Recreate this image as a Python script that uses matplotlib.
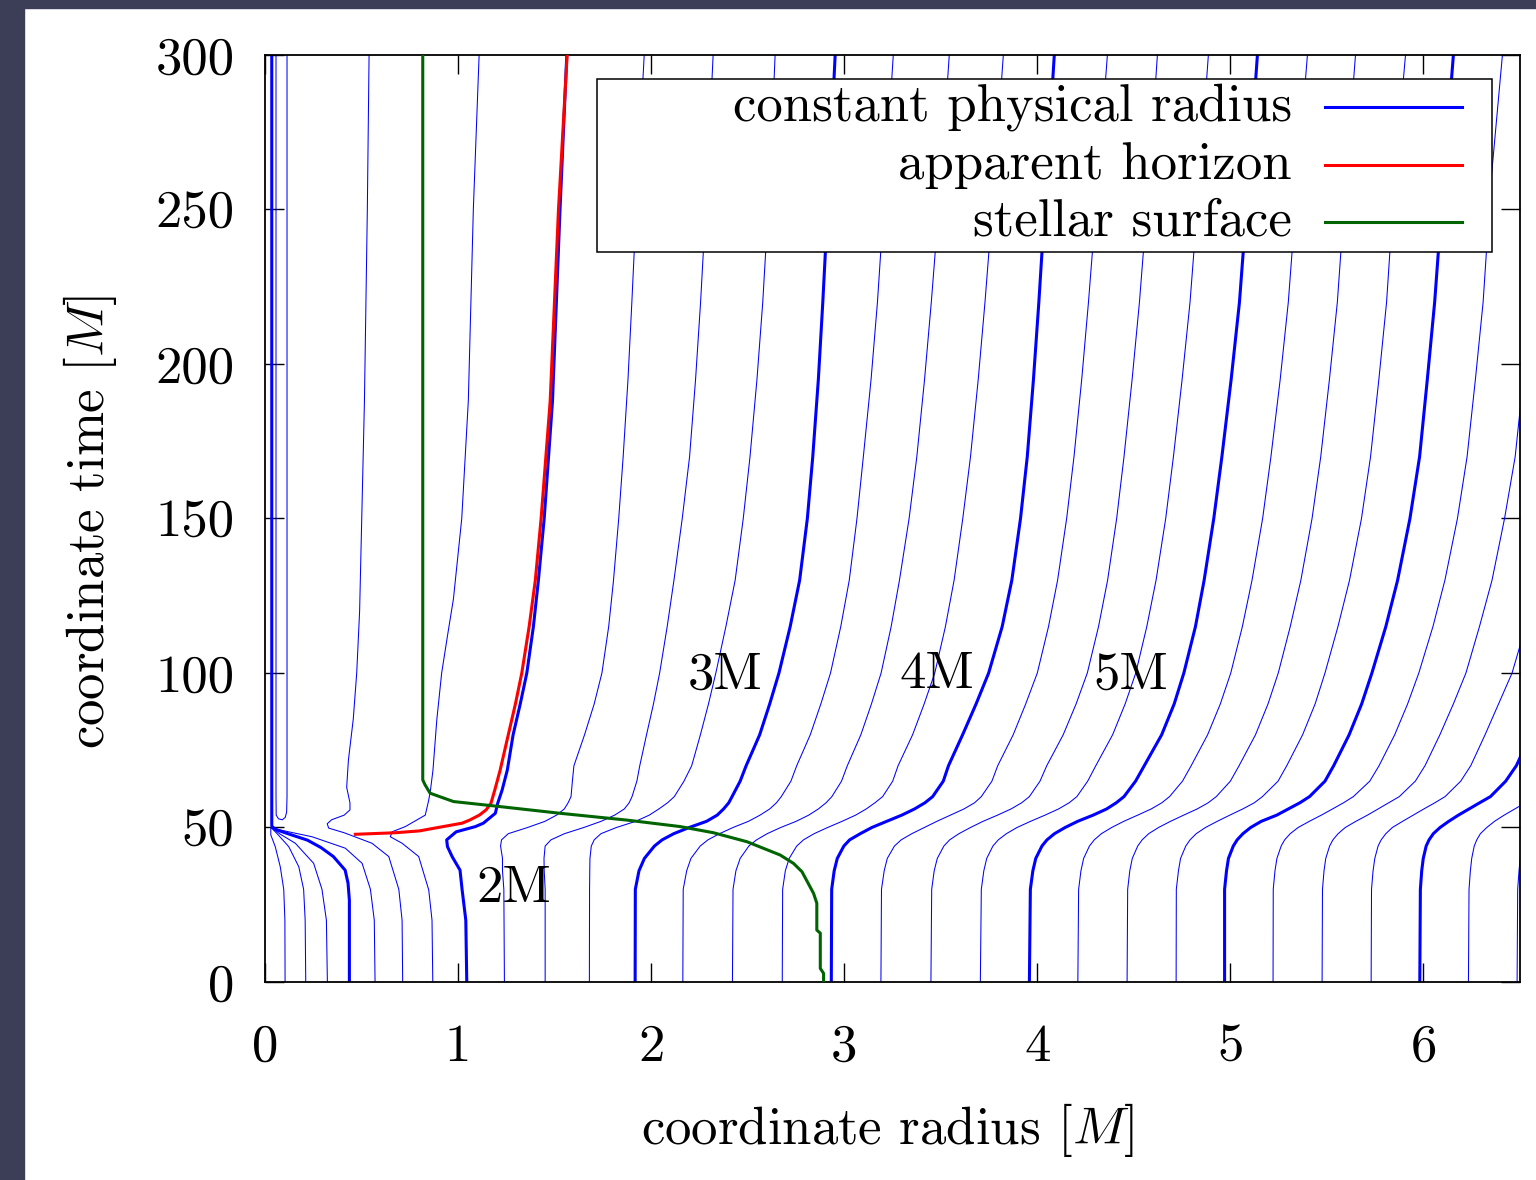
import matplotlib
matplotlib.use("Agg")
import matplotlib.pyplot as plt
from matplotlib.patches import Rectangle

plt.rcParams['font.family'] = 'serif'
plt.rcParams['font.serif'] = ['cmr10']
plt.rcParams['mathtext.fontset'] = 'cm'
plt.rcParams['axes.formatter.use_mathtext'] = True

BLUE = '#0000ff'
RED = '#ff0000'
GREEN = '#006400'

# ---------------------------------------------------------------
# outer lines of constant physical radius (2.25M ... 7.5M)
# coordinate radius at t=0 plus drift read at shared time samples
# ---------------------------------------------------------------
t_knots = [0, 30, 36, 40, 44, 46, 48, 50, 52, 54, 56, 58, 60, 65, 70, 80, 90,
           100, 115, 130, 150, 170, 195, 220, 260, 300]

outer_radius = [2.25, 2.5, 2.75, 3.0, 3.25, 3.5, 3.75, 4.0, 4.25, 4.5, 4.75,
                5.0, 5.25, 5.5, 5.75, 6.0, 6.25, 6.5, 6.75, 7.0, 7.25, 7.5]
outer_start = [1.24, 1.451, 1.68, 1.917, 2.164, 2.421, 2.679, 2.933, 3.19,
               3.449, 3.705, 3.959, 4.21, 4.465, 4.719, 4.97, 5.221, 5.475,
               5.729, 5.981, 6.233, 6.485]
outer_drift = [
    [0, -.003, -.01, -.01, -.02, -.015, .02, .12, .21, .27, .31, .33, .345, .352, .36, .415, .465, .505, .54, .565, .592, .615, .64, .66, .69, .724],
    [0, 0, -.005, -.006, 0, .03, .1, .2, .29, .36, .41, .435, .45, .475, .49, .525, .561, .593, .632, .667, .71, .748, .779, .805, .84, .87],
    [0, .001, .002, .003, .01, .025, .06, .14, .24, .31, .36, .405, .44, .49, .53, .575, .617, .655, .707, .755, .797, .832, .868, .898, .935, .962],
    [0, .001, .02, .048, .1, .14, .2, .28, .37, .425, .458, .485, .502, .544, .575, .645, .697, .745, .803, .852, .892, .92, .949, .972, 1.005, 1.036],
    [0, .002, .02, .042, .09, .13, .19, .26, .34, .40, .45, .485, .51, .56, .59, .66, .715, .765, .818, .862, .902, .935, .975, 1.008, 1.05, 1.09],
    [0, .003, .018, .04, .085, .125, .18, .25, .33, .395, .445, .485, .515, .565, .595, .665, .72, .77, .822, .865, .915, .955, .995, 1.03, 1.08, 1.123],
    [0, .002, .016, .036, .075, .11, .165, .235, .31, .38, .435, .48, .52, .572, .60, .675, .735, .79, .845, .89, .935, .975, 1.015, 1.05, 1.1, 1.145],
    [0, .002, .015, .031, .065, .095, .15, .21, .287, .365, .431, .485, .525, .58, .607, .68, .75, .815, .885, .935, .98, 1.015, 1.047, 1.075, 1.115, 1.155],
    [0, .003, .017, .033, .07, .105, .16, .225, .29, .36, .43, .485, .52, .575, .605, .685, .75, .81, .868, .915, .962, 1.0, 1.04, 1.075, 1.125, 1.173],
    [0, .004, .017, .033, .067, .097, .145, .205, .27, .345, .415, .47, .51, .565, .60, .685, .752, .81, .868, .915, .962, 1.0, 1.042, 1.08, 1.13, 1.173],
    [0, .005, .018, .033, .065, .093, .135, .19, .26, .335, .405, .46, .50, .556, .598, .685, .75, .805, .862, .91, .96, 1.0, 1.045, 1.086, 1.135, 1.181],
    [0, .005, .018, .033, .065, .091, .13, .185, .25, .33, .40, .45, .49, .55, .595, .685, .75, .80, .86, .905, .955, .997, 1.045, 1.088, 1.136, 1.181],
    [0, .004, .016, .03, .06, .085, .122, .175, .238, .31, .38, .435, .475, .542, .587, .672, .738, .792, .852, .902, .957, 1.0, 1.048, 1.09, 1.138, 1.189],
    [0, .003, .014, .027, .055, .078, .112, .163, .225, .293, .363, .42, .462, .535, .58, .665, .73, .783, .845, .9, .958, 1.003, 1.048, 1.089, 1.134, 1.183],
    [0, .001, .012, .023, .05, .072, .104, .152, .213, .278, .345, .405, .447, .528, .573, .655, .72, .771, .838, .898, .96, 1.007, 1.05, 1.09, 1.132, 1.188],
    [0, 0, .01, .02, .045, .065, .095, .135, .19, .27, .33, .39, .44, .52, .565, .645, .71, .763, .835, .896, .96, 1.01, 1.05, 1.088, 1.135, 1.185],
    [0, .001, .01, .02, .042, .06, .089, .13, .188, .25, .308, .365, .416, .501, .549, .63, .697, .755, .828, .89, .955, 1.005, 1.048, 1.088, 1.13, 1.188],
    [0, .002, .01, .019, .039, .056, .083, .12, .175, .235, .29, .345, .40, .483, .533, .61, .68, .745, .815, .88, .945, 1.0, 1.042, 1.08, 1.12, 1.17],
    [0, .002, .01, .019, .036, .052, .076, .11, .163, .218, .273, .33, .383, .464, .516, .59, .66, .73, .80, .86, .925, .98, 1.022, 1.06, 1.1, 1.15],
    [0, .003, .01, .018, .033, .048, .07, .105, .15, .2, .255, .31, .366, .445, .50, .575, .645, .71, .78, .84, .905, .96, 1.0, 1.04, 1.08, 1.13],
    [0, .003, .01, .017, .03, .043, .062, .095, .135, .185, .24, .295, .35, .43, .485, .56, .628, .69, .76, .82, .885, .94, .98, 1.02, 1.06, 1.11],
    [0, .003, .01, .016, .027, .038, .055, .085, .12, .17, .225, .28, .335, .415, .47, .545, .612, .675, .745, .80, .865, .92, .96, 1.0, 1.04, 1.09],
]

# ---------------------------------------------------------------
# inner lines (0.25M ... 2M), each read on its own time samples
# ---------------------------------------------------------------
r025_t = [0, 20, 30, 37.3, 43.8, 47.6, 49.8]
r025_x = [.104, .103, .097, .079, .053, .03, .03]
r050_t = [0, 20, 30, 37.3, 43.8, 47.5, 49.8]
r050_x = [.211, .208, .2, .175, .123, .07, .035]
r075_t = [0, 20, 30, 38.4, 44.9, 47.8, 49.8]
r075_x = [.323, .318, .295, .252, .157, .08, .035]
r100_t = [0, 26.5, 32, 36.2, 40.6, 43.5, 45.9, 47.2, 48.6, 49.5, 50.5, 300]
r100_x = [.437, .437, .43, .415, .354, .29, .22, .157, .09, .05, .035, .035]
r125_t = [0, 20, 30, 38.4, 43.3, 47, 48.6, 49.8]
r125_x = [.57, .566, .546, .503, .416, .244, .123, .036]
r150_t = [0, 20, 30, 40.6, 44.9, 48.3, 49.8, 51.2, 52.5, 54, 55.7, 58, 63, 71.8,
          85, 100, 120, 150, 188, 250, 300]
r150_x = [.713, .71, .693, .641, .554, .41, .33, .322, .345, .41, .44, .44, .423,
          .432, .457, .475, .49, .501, .515, .53, .539]
r175_t = [0, 20, 29.8, 40.6, 44.9, 47, 48.6, 50.3, 54, 58.9, 62.1, 68.6, 85, 100,
          112, 124, 150, 188, 250, 300]
r175_x = [.869, .865, .848, .796, .71, .649, .658, .727, .83, .848, .857, .87,
          .89, .915, .945, .976, 1.019, 1.053, 1.079, 1.109]
r200_t = [0, 20, 29.8, 36.2, 40.6, 43.8, 46, 48.6, 50.3, 51.4, 54.6, 57.8, 62.1,
          68.6, 80, 90, 100, 115, 130, 150, 188, 250, 300]
r200_x = [1.045, 1.04, 1.021, 1.01, .969, .945, .941, .99, 1.09, 1.131, 1.193,
          1.205, 1.228, 1.255, 1.285, 1.322, 1.356, 1.39, 1.416, 1.446, 1.489,
          1.528, 1.563]
hook_t = [300, 60, 55, 53.3, 52.5, 52.8, 54, 60, 300]
hook_x = [.114, .114, .112, .105, .09, .07, .058, .057, .057]

# apparent horizon
horizon_t = [47.8, 48.3, 48.9, 49.7, 51.4, 52.4, 54, 55.7, 57.8, 62.1, 68.6, 80,
             90, 100, 115, 130, 150, 188, 250, 300]
horizon_x = [.468, .675, .80, .87, 1.021, 1.06, 1.11, 1.145, 1.17, 1.19, 1.218,
             1.26, 1.297, 1.33, 1.368, 1.40, 1.43, 1.477, 1.52, 1.565]

# stellar surface
surface_t = [300, 65.4, 63.8, 61.1, 58.4, 57, 54.6, 52.4, 50.3, 48.3, 45.4, 41.1,
             38.4, 35.7, 28.7, 25.5, 16.8, 15.8, 4.4, 2.8, 0.5]
surface_x = [.817, .817, .829, .855, .976, 1.183, 1.528, 1.874, 2.15, 2.323,
             2.496, 2.668, 2.737, 2.781, 2.841, 2.858, 2.858, 2.876, 2.876, 2.893,
             2.893]

radius_labels = ['2M', '3M', '4M', '5M']
radius_label_pos = [(1.286, 30.4), (2.383, 99.4), (3.482, 99.4), (4.482, 99.4)]

legend_labels = ['constant physical radius', 'apparent horizon', 'stellar surface']
legend_colors = [BLUE, RED, GREEN]

x_ticks = [0, 1, 2, 3, 4, 5, 6]
y_ticks = [0, 50, 100, 150, 200, 250, 300]

THIN = 0.75
THICK = 2.2
FS = 38

fig = plt.figure(figsize=(15.36, 11.8), dpi=100)
ax = fig.add_axes([0.17253, 0.16780, 0.81705, 0.78559])

# dark page border on the left and top
fig.patches.append(Rectangle((0, 0), 24 / 1536, 1, transform=fig.transFigure,
                             color='#3c3d57', zorder=-1))
fig.patches.append(Rectangle((0, 1 - 8 / 1180), 1, 8 / 1180,
                             transform=fig.transFigure, color='#3c3d57', zorder=-1))

# inner family
inner = [(r025_t, r025_x, THIN), (r050_t, r050_x, THIN), (r075_t, r075_x, THIN),
         (r100_t, r100_x, THICK), (r125_t, r125_x, THIN), (r150_t, r150_x, THIN),
         (r175_t, r175_x, THIN), (r200_t, r200_x, THICK), (hook_t, hook_x, THIN)]
for tt, xx, lw in inner:
    ax.plot(xx, tt, color=BLUE, lw=lw, zorder=2)

# outer family
for R, x0, drift in zip(outer_radius, outer_start, outer_drift):
    xx = [x0 + d for d in drift]
    lw = THICK if float(R).is_integer() else THIN
    ax.plot(xx, t_knots, color=BLUE, lw=lw, zorder=2)

ax.plot(horizon_x, horizon_t, color=RED, lw=THICK, zorder=3)
ax.plot(surface_x, surface_t, color=GREEN, lw=THICK, zorder=4)

for lab, (xp, tp) in zip(radius_labels, radius_label_pos):
    ax.text(xp, tp, lab, ha='center', va='center', fontsize=FS, zorder=4)

ax.set_xlim(0, 6.5)
ax.set_ylim(0, 300)
ax.set_xticks(x_ticks)
ax.set_yticks(y_ticks)
ax.set_xticklabels([str(v) for v in x_ticks])
ax.set_yticklabels([str(v) for v in y_ticks])
ax.tick_params(axis='both', direction='in', length=14, width=1.0,
               top=True, right=True, labelsize=FS)
ax.tick_params(axis='x', pad=30)
ax.tick_params(axis='y', pad=22)
for sp in ax.spines.values():
    sp.set_linewidth(1.3)

ax.set_xlabel('coordinate radius [$M$]', fontsize=FS)
ax.set_ylabel('coordinate time [$M$]', fontsize=FS)
ax.xaxis.set_label_coords(0.496, -0.128)
ax.yaxis.set_label_coords(-0.116, 0.496)

# legend box drawn gnuplot-style: text, then sample line, right aligned
ax.add_patch(Rectangle((0.2645, 0.7875), 0.7132, 0.1866, transform=ax.transAxes,
                       facecolor='white', edgecolor='black', lw=1.1, zorder=6))
legend_rows = [0.9439, 0.8813, 0.8199]
for lab, col, yr in zip(legend_labels, legend_colors, legend_rows):
    ax.text(0.8183, yr, lab, transform=ax.transAxes, ha='right', va='center',
            fontsize=FS, zorder=7)
    ax.plot([0.8446, 0.9538], [yr, yr], transform=ax.transAxes, color=col,
            lw=THICK, zorder=7, clip_on=False)

fig.savefig('out.png', dpi=100)
